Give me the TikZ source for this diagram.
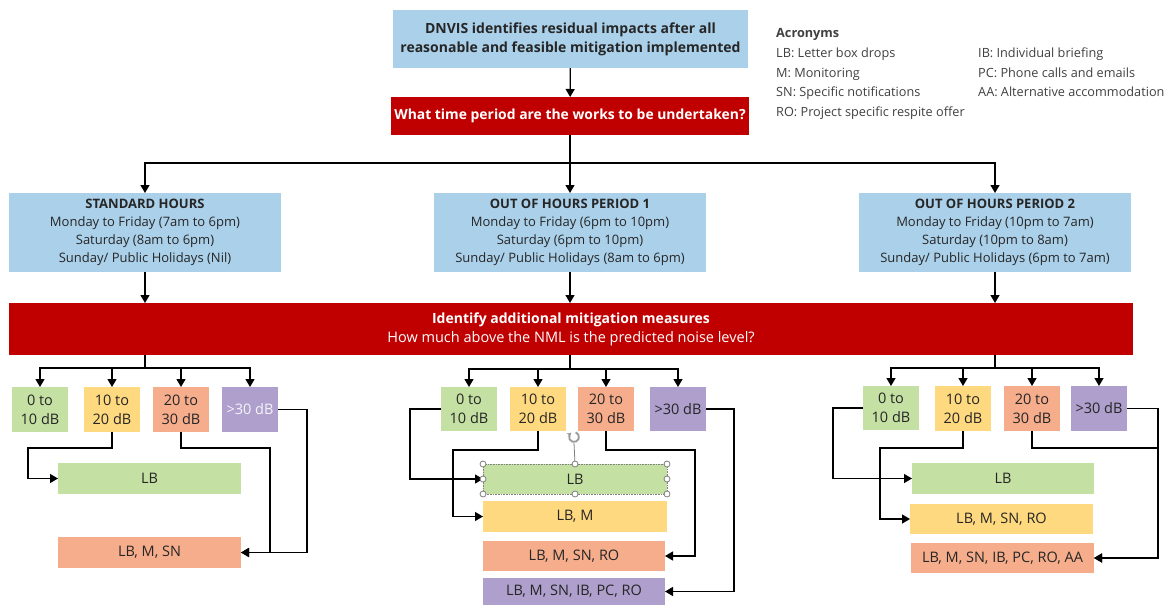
\documentclass[tikz,border=0pt]{standalone}
\usepackage{fontspec}
\setmainfont{Open Sans}
\usetikzlibrary{arrows.meta,calc}
\definecolor{cblue}{HTML}{ABD0EA}
\definecolor{cred}{HTML}{C00000}
\definecolor{cgreen}{HTML}{C5E0A3}
\definecolor{cyellow}{HTML}{FFD97F}
\definecolor{csalmon}{HTML}{F6AD8C}
\definecolor{cpurple}{HTML}{AE9FCC}
\definecolor{ctext}{HTML}{262626}
\definecolor{cgray}{HTML}{404040}
\newcommand\bx[7]{\node[#6, minimum width={#4pt-#2pt}, minimum height={#5pt-#3pt}] (#1) at ({(#2+#4)/2},{(#3+#5)/2}) {#7};}
\tikzset{
  box/.style={inner sep=0pt, outer sep=0pt, align=center, text=ctext, font=\fontsize{14.5}{18}\selectfont},
  lvl/.style={box, font=\fontsize{14.5}{19}\selectfont},
  bluebox/.style={box, fill=cblue},
  redbox/.style={box, fill=cred, text=white},
  gbox/.style={box, fill=cgreen},
  ybox/.style={box, fill=cyellow},
  sbox/.style={box, fill=csalmon},
  pbox/.style={box, fill=cpurple},
  arr/.style={-{Triangle[length=8pt,width=9pt]}, line width=1.3pt},
  ln/.style={line width=1.3pt},
  acr/.style={anchor=base west, inner sep=0pt, text=cgray, font=\fontsize{12.7}{15}\selectfont},
  handle/.style={circle, draw=gray, fill=white, line width=0.8pt, inner sep=0pt, minimum size=6pt}
}
\begin{document}
\begin{tikzpicture}[x=1pt,y=-1pt]
\useasboundingbox (0,0) rectangle (1174,605);
% top
\bx{top}{393}{10}{748}{68}{bluebox, font=\fontsize{14}{19}\selectfont\bfseries}{DNVIS identifies residual impacts after all\\reasonable and feasible mitigation implemented}
\bx{q}{391}{97}{749}{135}{redbox, font=\fontsize{13.9}{16}\selectfont\bfseries}{What time period are the works to be undertaken?}
\draw[arr] (top) -- (q);
% periods
\bx{sh}{9}{193}{281}{272}{bluebox, font=\fontsize{13}{18}\selectfont}{\textbf{STANDARD HOURS}\\Monday to Friday (7am to 6pm)\\Saturday (8am to 6pm)\\Sunday/ Public Holidays (Nil)}
\bx{o1}{434}{193}{706}{272}{bluebox, font=\fontsize{13}{18}\selectfont}{\textbf{OUT OF HOURS PERIOD 1}\\Monday to Friday (6pm to 10pm)\\Saturday (6pm to 10pm)\\Sunday/ Public Holidays (8am to 6pm)}
\bx{o2}{859}{193}{1131}{272}{bluebox, font=\fontsize{13}{18}\selectfont}{\textbf{OUT OF HOURS PERIOD 2}\\Monday to Friday (10pm to 7am)\\Saturday (10pm to 8am)\\Sunday/ Public Holidays (6pm to 7am)}
\coordinate (split) at (570,163);
\draw[ln] (q) -- (split);
\draw[arr] (split) -| (sh);
\draw[arr] (split) -| (o2);
\draw[arr] (split) -- (o1);
% red bar
\bx{bar}{9}{303}{1133}{355}{redbox, font=\fontsize{14.5}{19}\selectfont}{{\fontsize{14}{19}\selectfont\bfseries Identify additional mitigation measures}\\How much above the NML is the predicted noise level?}
\draw[arr] (sh) -- (sh |- bar.north);
\draw[arr] (o1) -- (o1 |- bar.north);
\draw[arr] (o2) -- (o2 |- bar.north);
% group A
\bx{a0}{12}{387}{68}{432}{gbox,lvl}{0 to\\10 dB}
\bx{a1}{84}{387}{140}{432}{ybox,lvl}{10 to\\20 dB}
\bx{a2}{153}{387}{209}{432}{sbox,lvl}{20 to\\30 dB}
\bx{a3}{222}{387}{278}{432}{pbox,lvl, text=white!88!cpurple}{>30 dB}
\bx{aL}{58}{463}{241}{494}{gbox}{LB}
\bx{aM}{58}{537}{241}{568}{sbox}{LB, M, SN}
\coordinate (ga) at ($(sh |- bar.south)+(0,13)$);
\draw[ln] (sh |- bar.south) -- (ga);
\foreach \n in {a0,a1,a2,a3} \draw[arr] (ga) -| (\n);
\draw[arr] (a1.south) -- ++(0,16) -| ([xshift=-30pt]aL.west) -- (aL.west);
\draw[arr] (a2.south) -- ++(0,16) -| ([xshift=29pt]aM.east) -- (aM.east);
\draw[arr] (a3.east) -| ([xshift=66pt]aM.east) -- (aM.east);
% group B
\bx{b0}{441}{387}{497}{431}{gbox,lvl}{0 to\\10 dB}
\bx{b1}{510}{387}{566}{431}{ybox,lvl}{10 to\\20 dB}
\bx{b2}{578}{387}{634}{431}{sbox,lvl}{20 to\\30 dB}
\bx{b3}{650}{387}{706}{431}{pbox,lvl}{>30 dB}
\bx{bL}{483}{464}{667}{494}{gbox}{LB}
\bx{bM}{483}{501}{667}{532}{ybox}{LB, M}
\bx{bS}{483}{541}{665}{571}{sbox}{LB, M, SN, RO}
\bx{bP}{483}{578}{665}{605}{pbox}{LB, M, SN, IB, PC, RO}
\coordinate (gb) at ($(o1 |- bar.south)+(0,14)$);
\draw[ln] (o1 |- bar.south) -- (gb);
\foreach \n in {b0,b1,b2,b3} \draw[arr] (gb) -| (\n);
\draw[arr] (b0.west) -| ([xshift=-73pt]bL.west) -- (bL.west);
\draw[arr] (b1.south) -- ++(0,19) -| ([xshift=-30pt]bM.west) -- (bM.west);
\draw[arr] (b2.south) -- ++(0,19) -| ([xshift=30pt]bS.east) -- (bS.east);
\draw[arr] (b3.east) -| ([xshift=69pt]bP.east) -- (bP.east);
% selection handles on bL
\draw[gray, densely dotted, line width=0.6pt] (bL.north west) rectangle (bL.south east);
\coordinate (rot) at (574,437);
\draw[gray, line width=0.8pt] (bL.north) -- ([yshift=-6pt]rot);
\foreach \p in {north west,north,north east,west,east,south west,south,south east}
  \node[handle] at (bL.\p) {};
\draw[gray!80, line width=1.8pt, -{Stealth[length=3.5pt,width=5pt]}] ([shift={(70:5pt)}]rot) arc[start angle=70, end angle=-230, radius=5pt];
% group C
\bx{c0}{863}{386}{919}{430}{gbox,lvl}{0 to\\10 dB}
\bx{c1}{935}{386}{991}{431}{ybox,lvl}{10 to\\20 dB}
\bx{c2}{1004}{386}{1060}{431}{sbox,lvl}{20 to\\30 dB}
\bx{c3}{1071}{386}{1127}{431}{pbox,lvl}{>30 dB}
\bx{cL}{912}{463}{1094}{494}{gbox}{LB}
\bx{cM}{910}{504}{1093}{534}{ybox}{LB, M, SN, RO}
\bx{cS}{911}{543}{1094}{573}{sbox}{LB, M, SN, IB, PC, RO, AA}
\coordinate (gc) at ($(o2 |- bar.south)+(0,13)$);
\draw[ln] (o2 |- bar.south) -- (gc);
\foreach \n in {c0,c1,c2,c3} \draw[arr] (gc) -| (\n);
\draw[arr] (c0.west) -| ([xshift=-79pt]cL.west) -- (cL.west);
\draw[arr] (c1.south) -- ++(0,17) -| ([xshift=-30pt]cM.west) -- (cM.west);
\draw[arr] (c2.south) -- ++(0,17) -| ([xshift=64pt]cS.east) -- (cS.east);
\draw[arr] (c3.east) -| ([xshift=64pt]cS.east) -- (cS.east);
% acronyms
\node[acr, font=\fontsize{12.7}{15}\selectfont\bfseries] (ac) at (776,37) {Acronyms};
\node[acr] (l1) at (776,57) {LB: Letter box drops};
\node[acr] (l2) at (776,77) {M: Monitoring};
\node[acr] (l3) at (776,96) {SN: Specific notifications};
\node[acr] (l4) at (776,116) {RO: Project specific respite offer};
\node[acr] (r1) at (978,57) {IB: Individual briefing};
\node[acr] (r2) at (978,77) {PC: Phone calls and emails};
\node[acr] (r3) at (978,96) {AA: Alternative accommodation};
\end{tikzpicture}
\end{document}
